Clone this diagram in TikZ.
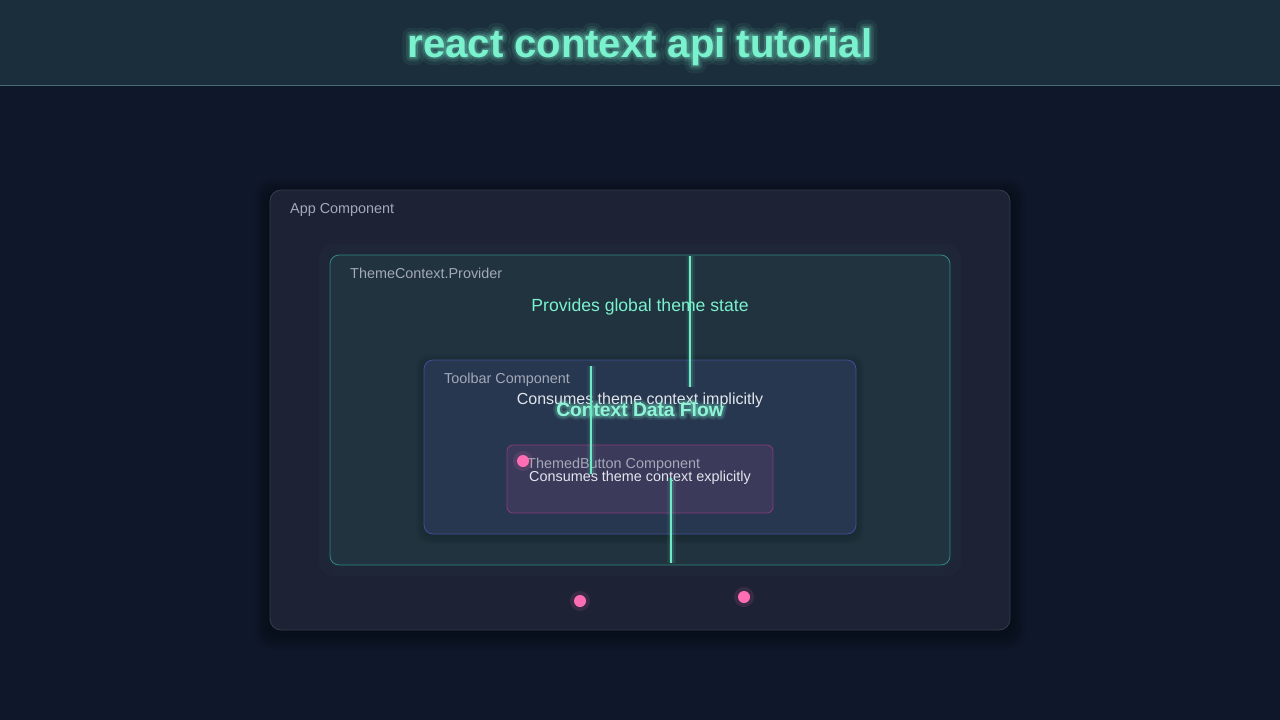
\documentclass[tikz,border=0pt]{standalone}
\usepackage{fontspec}
\setmainfont{Liberation Sans}
\newfontfamily\glowA[FakeBold=10]{Liberation Sans Bold}
\newfontfamily\glowB[FakeBold=22]{Liberation Sans Bold}
\newfontfamily\glowC[FakeBold=40]{Liberation Sans Bold}
\usetikzlibrary{calc}
\definecolor{bgc}{HTML}{0F172A}
\definecolor{headc}{HTML}{1B2E3B}
\definecolor{headline}{HTML}{4A6B72}
\definecolor{aqua}{HTML}{7AF2CE}
\definecolor{linec}{HTML}{6EEBC4}
\definecolor{appfill}{HTML}{1E2235}
\definecolor{appdraw}{HTML}{363B4E}
\definecolor{provfill}{HTML}{20333F}
\definecolor{provdraw}{HTML}{2E8C7E}
\definecolor{toolfill}{HTML}{283750}
\definecolor{tooldraw}{HTML}{3F4E96}
\definecolor{btnfill}{HTML}{3B3A5B}
\definecolor{btndraw}{HTML}{8A3A7C}
\definecolor{labelc}{HTML}{A3A9B6}
\definecolor{textc}{HTML}{E2E6EC}
\definecolor{pinkc}{HTML}{FF6EB4}
\tikzset{
  boxstyle/.style={rectangle, rounded corners=9pt, inner sep=0pt, outer sep=0pt, line width=0.8pt},
  lbl/.style={anchor=base west, inner sep=0pt, text=labelc, font=\fontsize{14.4}{16}\selectfont},
  flowline/.style={line width=2pt, linec},
  lineglowA/.style={line width=9pt, linec, opacity=0.07},
  lineglowB/.style={line width=5pt, linec, opacity=0.14},
  dotstyle/.style={circle, fill=pinkc, inner sep=0pt, minimum size=12pt},
  dotglow/.style={circle, fill=pinkc, inner sep=0pt, minimum size=20pt, opacity=0.12},
  glowtext/.style={anchor=base, inner sep=0pt, text=aqua, line join=round, line cap=round},
}
\begin{document}
\begin{tikzpicture}[x=1pt,y=-1pt]
\useasboundingbox (0,0) rectangle (1280,720);
\fill[bgc] (0,0) rectangle (1280,720);
\fill[headc] (0,0) rectangle (1280,85);
\draw[headline, line width=0.8pt] (0,85.5) -- (1280,85.5);
% title glow
\begin{scope}[line join=round]
\node[glowtext, opacity=0.07, font=\fontsize{40}{48}\selectfont\glowC] (titleglowC) at (640,57) {react context api tutorial};
\node[glowtext, opacity=0.12, font=\fontsize{40}{48}\selectfont\glowB] (titleglowB) at (640,57) {react context api tutorial};
\node[glowtext, opacity=0.2, font=\fontsize{40}{48}\selectfont\glowA] (titleglowA) at (640,57) {react context api tutorial};
\end{scope}
\node[glowtext, font=\fontsize{40}{48}\selectfont\bfseries] (title) at (640,57) {react context api tutorial};
% app shadow
\foreach \i in {1,...,8}{
  \fill[black, opacity=0.04, rounded corners=10+\i] (270-2*\i,194-2*\i) rectangle (1010+2*\i,634+2*\i);
}
\node[boxstyle, fill=appfill, draw=appdraw, minimum width=740pt, minimum height=440pt, rounded corners=11pt] (app) at (640,410) {};
\node[lbl] (applbl) at (290,213) {App Component};
% provider glow
\foreach \i in {1,...,5}{
  \draw[provdraw, opacity=0.04, line width=2pt, rounded corners=9+\i] (330-2*\i,255-2*\i) rectangle (950+2*\i,565+2*\i);
}
\node[boxstyle, fill=provfill, draw=provdraw, minimum width=620pt, minimum height=310pt] (provider) at (640,410) {};
\node[lbl] (provlbl) at (350,278) {ThemeContext.Provider};
\node[anchor=base, inner sep=0pt, text=aqua, font=\fontsize{17.6}{20}\selectfont] (provtext) at (640,311) {Provides global theme state};
% toolbar
\foreach \i in {1,...,4}{
  \fill[black, opacity=0.035, rounded corners=9+\i] (424-2*\i,362-2*\i) rectangle (856+2*\i,536+2*\i);
}
\node[boxstyle, fill=toolfill, draw=tooldraw, minimum width=432pt, minimum height=174pt] (toolbar) at (640,447) {};
\node[lbl] (toollbl) at (444,383) {Toolbar Component};
\node[anchor=base, inner sep=0pt, text=textc, font=\fontsize{16}{19}\selectfont] (tooltext) at (640,404) {Consumes theme context implicitly};
% button
\node[boxstyle, fill=btnfill, draw=btndraw, minimum width=266pt, minimum height=68pt, rounded corners=6pt] (button) at (640,479) {};
\node[lbl] (btnlbl) at (527,468) {ThemedButton Component};
\node[anchor=base, inner sep=0pt, text=textc, font=\fontsize{14.4}{17}\selectfont] (btntext) at (640,481) {Consumes theme context explicitly};
% context data flow title
\begin{scope}[line join=round]
\node[glowtext, opacity=0.1, font=\fontsize{19.2}{23}\selectfont\glowC] (flowglowC) at (640,416) {Context Data Flow};
\node[glowtext, opacity=0.2, font=\fontsize{19.2}{23}\selectfont\glowB] (flowglowB) at (640,416) {Context Data Flow};
\end{scope}
\node[glowtext, text=aqua!85!white, font=\fontsize{19.2}{23}\selectfont\bfseries] (flowtitle) at (640,416) {Context Data Flow};
% flow lines
\coordinate (l1a) at (690,256);
\coordinate (l1b) at (690,387);
\coordinate (l2a) at (591,366);
\coordinate (l2b) at (591,474);
\coordinate (l3a) at (671,478);
\coordinate (l3b) at (671,563);
\foreach \s/\e in {l1a/l1b, l2a/l2b, l3a/l3b}{
  \draw[lineglowA] (\s) -- (\e);
  \draw[lineglowB] (\s) -- (\e);
  \draw[flowline] (\s) -- (\e);
}
% pink dots
\node[dotglow] (d1g) at (523,461) {};
\node[dotstyle] (d1) at (523,461) {};
\node[dotglow] (d2g) at (580,601) {};
\node[dotstyle] (d2) at (580,601) {};
\node[dotglow] (d3g) at (744,597) {};
\node[dotstyle] (d3) at (744,597) {};
\end{tikzpicture}
\end{document}
